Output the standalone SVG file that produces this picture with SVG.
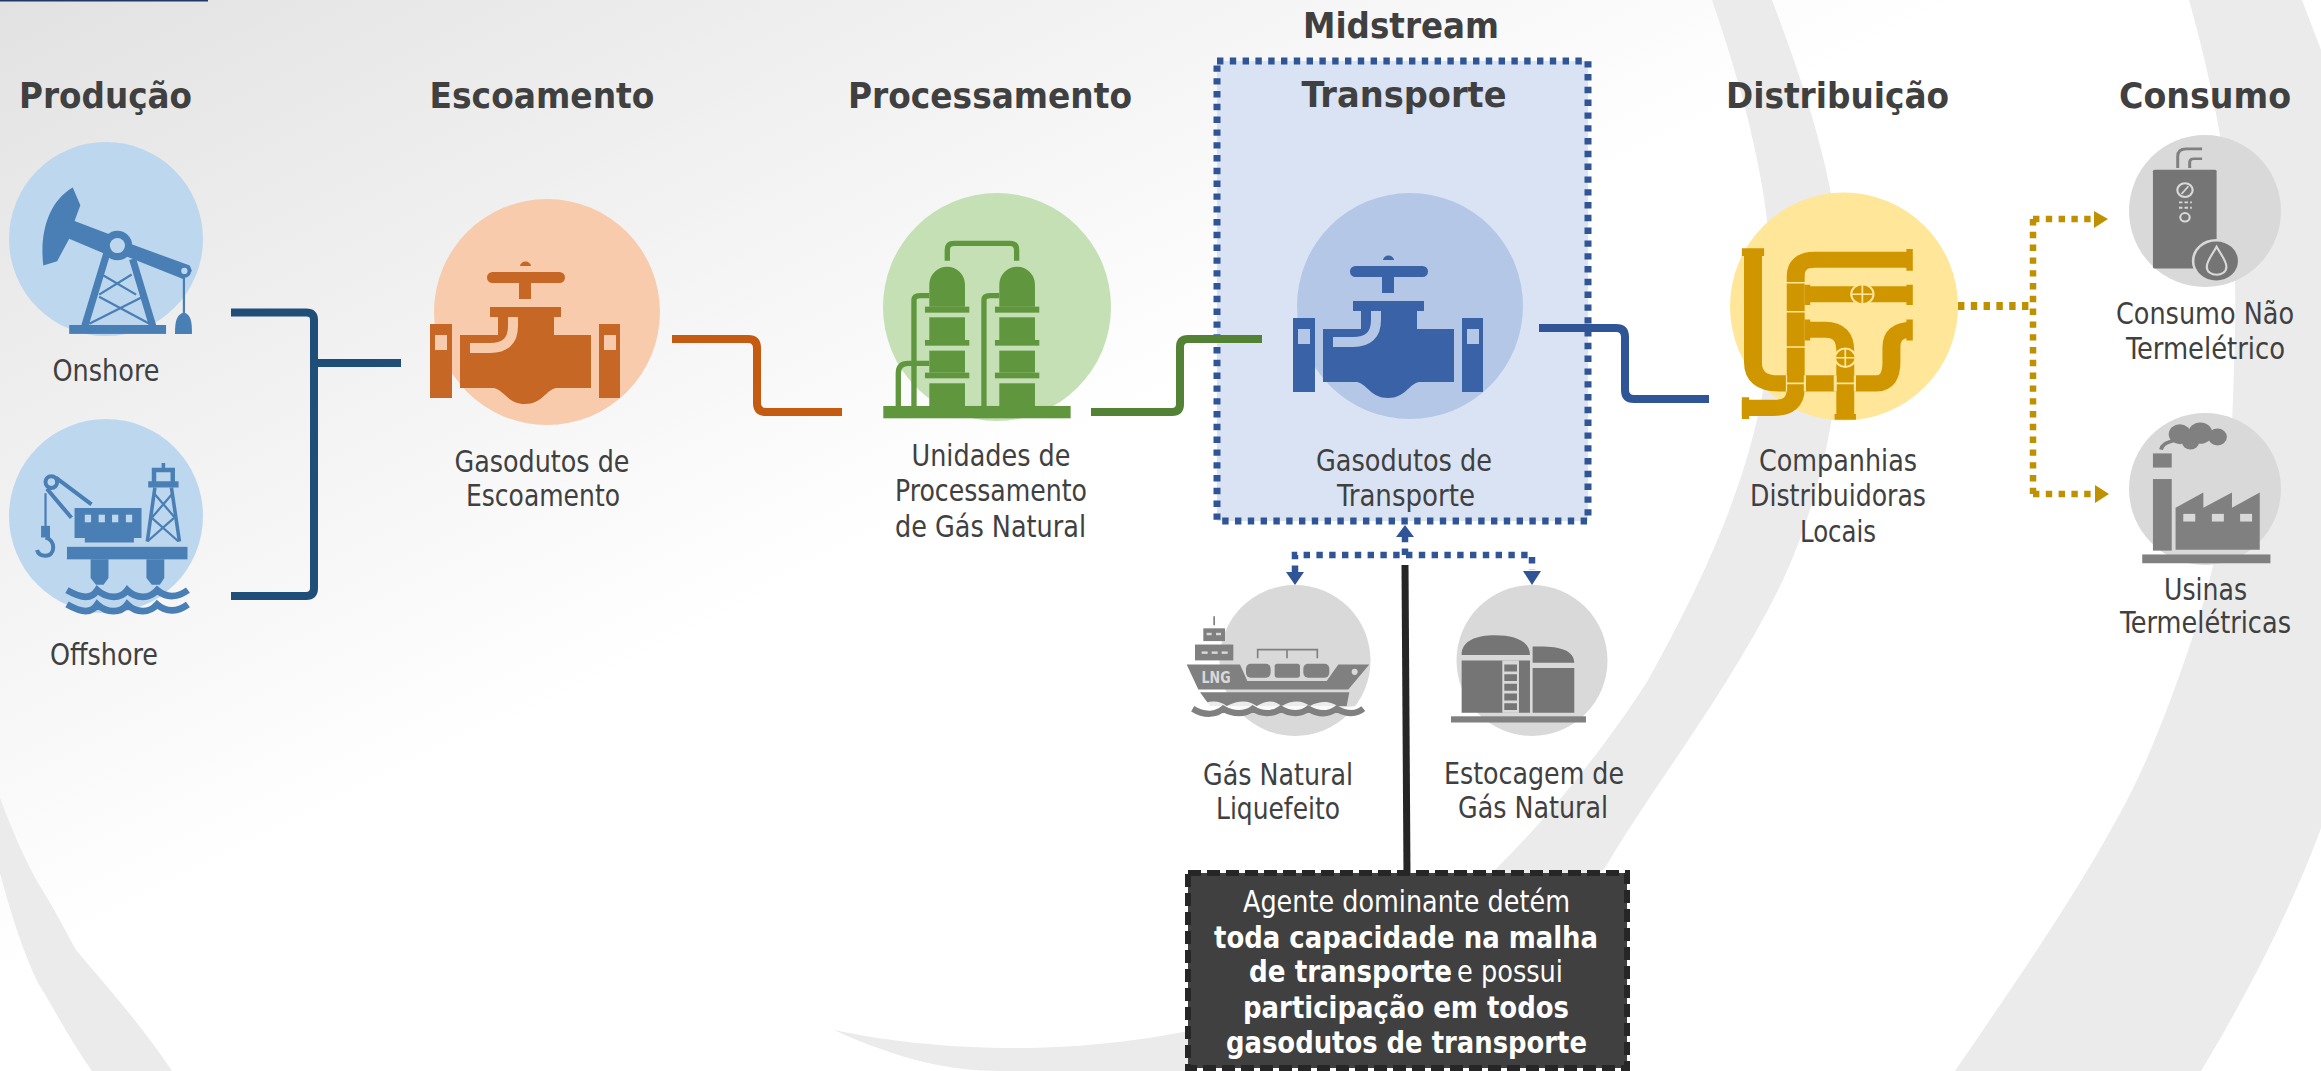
<svg xmlns="http://www.w3.org/2000/svg" width="2321" height="1071" viewBox="0 0 2321 1071">
<style>
text{font-family:"DejaVu Sans Condensed","DejaVu Sans",sans-serif;text-anchor:middle}
.h{font-size:35px;font-weight:700;fill:#404040}
.t{font-size:29.5px;fill:#404040}
.w{font-size:29.5px;fill:#fff}
.wb{font-size:29.5px;font-weight:700;fill:#fff}
.con{fill:none;stroke-linejoin:round}
.dot{fill:none;stroke-width:6.5;stroke-dasharray:6.4 6.4}
.bl{fill:#2f5597}.gd{fill:#bf9000}
.band{fill:#ebebeb}
.g1{fill:#4a7fb5}.g1s{fill:none;stroke:#4a7fb5}
.gr{fill:#5f963e}.grs{fill:none;stroke:#5f963e;stroke-width:16}
.pp{fill:none;stroke:#d09600;stroke-width:42}
.cap{fill:#d09600}
.ln{stroke:#ffe699;stroke-width:4;fill:none}
.st{fill:#757575}.sh{fill:#808080}
.li{fill:#d9d9d9}.lis{fill:none;stroke:#d9d9d9}
.pi{fill:none;stroke:#808080}
</style>
<defs>
<linearGradient id="bg" gradientUnits="userSpaceOnUse" x1="0" y1="0" x2="392" y2="784"><stop offset="0" stop-color="#e2e2e2"/><stop offset="1" stop-color="#fff"/></linearGradient>
<g id="valve">
<path fill="currentColor" d="M460 335H498V317H490V307H561V317H554V335H591V388H556C546 390 542 404 525 404C508 404 504 390 494 388H460Z"/>
<rect x="430" y="324" width="22" height="74" fill="currentColor"/>
<rect x="599" y="324" width="21" height="74" fill="currentColor"/>
<rect x="435" y="335" width="12" height="15" style="fill:var(--h)"/>
<rect x="604" y="335" width="12" height="15" style="fill:var(--h)"/>
<path d="M513 317V326Q513 348 490 348H470" fill="none" stroke-width="10" style="stroke:var(--h)"/>
<rect x="487" y="272" width="78" height="11" rx="5.5" fill="currentColor"/>
<rect x="519" y="283" width="12" height="16" fill="currentColor"/>
<path d="M520 266a5 4 0 0 1 11 0Z" fill="currentColor"/>
</g>
<g id="tower">
<path d="M868 470V404a53.500 54 0 0 1 107 0V470Z"/>
<rect x="855" y="470" width="133" height="18"/><rect x="868" y="502" width="107" height="68"/>
<rect x="855" y="570" width="133" height="17"/><rect x="868" y="602" width="107" height="66"/>
<rect x="855" y="668" width="133" height="17"/><rect x="868" y="700" width="107" height="70"/>
</g>
</defs>
<g id="background">
<rect width="2321" height="1071" fill="url(#bg)"/>
<path class="band" d="M1712 0C1760 140 1785 260 1765 380C1750 470 1715 560 1647 682C1590 770 1500 880 1400 950C1300 1015 1150 1050 1002 1048C940 1047 880 1040 834 1030C900 1060 950 1071 1000 1071H1186L1200 1062C1350 1030 1510 960 1605 868C1650 790 1730 690 1783 580C1820 500 1842 400 1842 300C1842 200 1810 100 1772 0Z"/>
<path class="band" d="M2189 0C2220 110 2238 220 2235 328C2234 370 2233 410 2231 443C2225 510 2215 570 2196 627C2175 690 2150 760 2118 817C2070 905 2010 990 1955 1071H2201C2250 990 2295 900 2321 828V50L2302 0Z"/>
<path class="band" d="M0 798C12 830 25 860 38 883C52 905 65 930 76 950C110 990 145 1030 172 1071H92C70 1040 55 1010 38 983C22 950 10 910 0 873Z"/>
<rect width="208" height="1.500" fill="#1f3864"/>
</g>
<g id="midstream-box">
<rect x="1217" y="61" width="371" height="460" fill="#dae3f3" stroke="#2f5597" stroke-width="7" stroke-dasharray="6.400 6.400"/>
<text class="h" x="1401" y="38" textLength="196" lengthAdjust="spacingAndGlyphs">Midstream</text>
<text class="h" x="1404" y="107" textLength="205" lengthAdjust="spacingAndGlyphs">Transporte</text>
</g>
<g id="connectors">
<path class="con" stroke="#1f4e79" stroke-width="8" d="M231 312.500H306Q314 312.500 314 320V588Q314 596 306 596H231M314 363H401"/>
<path class="con" stroke="#c55a11" stroke-width="8" d="M672 339H748Q757 339 757 348V403Q757 412 766 412H842"/>
<path class="con" stroke="#548235" stroke-width="8" d="M1091 412H1172Q1180 412 1180 404V347Q1180 339 1188 339H1262"/>
<path class="con" stroke="#2f5597" stroke-width="8" d="M1539 328H1616Q1625 328 1625 337V390Q1625 399 1634 399H1709"/>
<path class="con" stroke="#262626" stroke-width="7" d="M1405 565L1407 875"/>
<path class="dot" stroke="#2f5597" d="M1295 572V555H1532V570M1405 555V537"/>
<path class="bl" d="M1286 572H1304L1295 585ZM1523 571H1541L1532 585ZM1396 537H1414L1405 525Z"/>
<path class="dot" stroke="#bf9000" style="stroke-width:8" d="M1958 306H2033"/>
<path class="dot" stroke="#bf9000" d="M2033 219V494M2033 219H2094M2033 494H2095"/>
<path class="gd" d="M2094 211L2108 219L2094 228ZM2095 485L2109 494L2095 503Z"/>
</g>
<g id="onshore">
<circle cx="106" cy="239" r="97" fill="#bdd7ee"/>
<g transform="scale(.4464)">
<path class="g1" d="M163 420L180 460L167 495L245 525A32 32 0 0 1 295 547L425 595L430 607L410 625L285 575L250 575L155 535L128 585L97 595C88 520 110 450 163 420Z"/>
<circle cx="263" cy="550" r="33" class="g1"/><circle cx="263" cy="550" r="17" fill="#bdd7ee"/>
<circle cx="413" cy="607" r="15" class="g1"/><circle cx="413" cy="607" r="7" fill="#bdd7ee"/>
<path class="g1s" stroke-width="5" d="M412 620V702"/>
<path class="g1" d="M412 700C395 705 392 720 392 748H430C430 720 428 705 412 700Z"/>
<rect x="155" y="728" width="217" height="20" class="g1"/>
<path class="g1s" stroke-width="16" d="M240 565L190 730M297 580L342 730"/>
<path class="g1s" stroke-width="5" d="M228 615L305 660M295 615L222 660M222 665L335 725M320 665L200 725"/>
</g>
<text class="t" x="106" y="381" textLength="107" lengthAdjust="spacingAndGlyphs">Onshore</text>
</g>
<g id="offshore">
<circle cx="106" cy="516" r="97" fill="#bdd7ee"/>
<g transform="scale(.4464)">
<circle cx="115" cy="1080" r="13" fill="none" stroke="#4a7fb5" stroke-width="9"/>
<path class="g1s" stroke-width="9" d="M125 1070L205 1130M105 1095L160 1160"/>
<path class="g1s" stroke-width="5" d="M102 1105V1180"/>
<rect x="92" y="1178" width="20" height="26" class="g1"/>
<path class="g1s" stroke-width="9" d="M102 1204C125 1210 125 1245 102 1245C92 1245 85 1240 83 1232"/>
<path class="g1" d="M167 1138H317V1205H300V1215H190V1205H167Z"/>
<g fill="#bdd7ee"><rect x="190" y="1153" width="14" height="17"/><rect x="221" y="1153" width="14" height="17"/><rect x="251" y="1153" width="14" height="17"/><rect x="282" y="1153" width="14" height="17"/></g>
<path class="g1" d="M362 1037H370V1048H392V1078H400V1092H332V1078H340V1048H362ZM350 1058V1078H382V1058Z" fill-rule="evenodd"/>
<path class="g1s" stroke-width="8" d="M347 1092L330 1213M384 1092L402 1213"/>
<path class="g1s" stroke-width="5" d="M345 1105L392 1160M387 1105L340 1160M340 1160L400 1213M390 1160L330 1213"/>
<rect x="150" y="1225" width="270" height="28" class="g1"/>
<path class="g1" d="M203 1253H243V1295L232 1310H215L203 1295ZM328 1253H368V1295L358 1310H340L328 1295Z"/>
<path class="g1s" stroke-width="15" d="M150 1322C185 1342 205 1342 218 1322C240 1342 270 1342 285 1322C305 1342 335 1342 352 1322C375 1342 400 1337 421 1322M150 1354C185 1374 205 1374 218 1354C240 1374 270 1374 285 1354C305 1374 335 1374 352 1354C375 1374 400 1369 421 1354"/>
</g>
<text class="t" x="104" y="665" textLength="108" lengthAdjust="spacingAndGlyphs">Offshore</text>
</g>
<text class="h" x="105.500" y="108" textLength="173" lengthAdjust="spacingAndGlyphs">Produção</text>
<g id="escoamento">
<text class="h" x="542" y="108" textLength="225" lengthAdjust="spacingAndGlyphs">Escoamento</text>
<circle cx="547" cy="312" r="113" fill="#f8cbad"/>
<use href="#valve" style="color:#c66726;--h:#f8cbad"/>
<text class="t" x="542" y="472" textLength="175" lengthAdjust="spacingAndGlyphs">Gasodutos de</text>
<text class="t" x="543" y="506" textLength="154" lengthAdjust="spacingAndGlyphs">Escoamento</text>
</g>
<g id="processamento">
<text class="h" x="990" y="108" textLength="284" lengthAdjust="spacingAndGlyphs">Processamento</text>
<circle cx="997" cy="307" r="114" fill="#c5e0b4"/>
<g transform="translate(640 150) scale(.3333)">
<rect x="730" y="768" width="562" height="37" class="gr"/>
<use href="#tower" class="gr"/><use href="#tower" x="210" class="gr"/>
<path class="grs" d="M922 332V300Q922 280 942 280H1110Q1130 280 1130 300V332M822 768V450Q822 437 840 437H868M1032 768V450Q1032 437 1050 437H1078M775 768V670Q775 640 805 640H868"/>
</g>
<text class="t" x="991" y="466" textLength="159" lengthAdjust="spacingAndGlyphs">Unidades de</text>
<text class="t" x="991" y="501" textLength="192" lengthAdjust="spacingAndGlyphs">Processamento</text>
<text class="t" x="990.500" y="537" textLength="191" lengthAdjust="spacingAndGlyphs">de Gás Natural</text>
</g>
<g id="transporte">
<circle cx="1410" cy="306" r="113" fill="#b4c7e7"/>
<use href="#valve" x="863" y="-6" style="color:#3a62a7;--h:#b4c7e7"/>
<text class="t" x="1404" y="471" textLength="176" lengthAdjust="spacingAndGlyphs">Gasodutos de</text>
<text class="t" x="1406" y="506" textLength="138" lengthAdjust="spacingAndGlyphs">Transporte</text>
</g>
<g id="distribuicao">
<text class="h" x="1837.500" y="108" textLength="223" lengthAdjust="spacingAndGlyphs">Distribuição</text>
<circle cx="1844" cy="306.500" r="114" fill="#ffe699"/>
<g transform="translate(1650 60) scale(.4273 .3827)">
<path class="pp" d="M241 495V790Q241 845 300 845H530Q565 845 565 790V750Q565 705 612 705"/>
<path class="pp" d="M215 909H290Q341 909 341 860V565Q341 522 385 522H612"/>
<path class="pp" d="M365 612H612M365 705H410Q457 705 457 760V935"/>
<path class="cap" d="M215 492H267V512H215ZM600 494H615V551H600ZM600 587H615V640H600ZM600 678H615V733H600ZM215 881H232V938H215ZM432 925H482V940H432ZM362 587H375V640H362ZM362 678H375V733H362Z"/>
<path class="ln" d="M314 582H368M314 658H368M314 750H368M320 845H365M432 845H480"/>
<path fill="#ffe699" d="M318 824h3v42h-3zM360 824h5v42h-5zM430 824h7v42h-7zM477 824h5v42h-5z"/>
<circle cx="497" cy="612" r="26" fill="#d09600" stroke="#ffe699" stroke-width="5"/><path class="ln" d="M473 612H521M497 588V636"/>
<circle cx="457" cy="778" r="24" fill="#d09600" stroke="#ffe699" stroke-width="5"/><path class="ln" d="M435 778H479M457 756V800"/>
</g>
<text class="t" x="1838" y="471" textLength="158" lengthAdjust="spacingAndGlyphs">Companhias</text>
<text class="t" x="1838" y="506" textLength="176" lengthAdjust="spacingAndGlyphs">Distribuidoras</text>
<text class="t" x="1838" y="542" textLength="76" lengthAdjust="spacingAndGlyphs">Locais</text>
</g>
<g id="consumo-nao-termeletrico">
<text class="h" x="2205" y="108" textLength="172" lengthAdjust="spacingAndGlyphs">Consumo</text>
<circle cx="2205" cy="211" r="76" fill="#d9d9d9"/>
<g transform="translate(1650 60) scale(.4273 .3827)">
<rect x="1177" y="287" width="149" height="258" rx="4" class="st"/>
<path class="pi" stroke-width="7" d="M1235 282V252Q1235 232 1255 232H1292M1263 282V268Q1263 258 1273 258H1292"/>
<circle cx="1252" cy="340" r="18" class="lis" stroke-width="5"/><path class="lis" stroke-width="4" d="M1244 350L1260 330"/>
<path class="lis" stroke-width="5" stroke-dasharray="8 5" d="M1238 372H1268M1238 386H1268"/>
<circle cx="1252" cy="411" r="11" class="lis" stroke-width="5"/>
<circle cx="1325" cy="525" r="54" class="st" stroke="#d9d9d9" stroke-width="6"/>
<path class="lis" stroke-width="5" d="M1326 488C1315 510 1303 525 1303 540C1303 568 1349 568 1349 540C1349 525 1337 510 1326 488Z"/>
</g>
<text class="t" x="2205" y="324" textLength="178" lengthAdjust="spacingAndGlyphs">Consumo Não</text>
<text class="t" x="2205.500" y="359" textLength="159" lengthAdjust="spacingAndGlyphs">Termelétrico</text>
</g>
<g id="usinas-termeletricas">
<circle cx="2205" cy="489" r="76" fill="#d9d9d9"/>
<g transform="translate(1650 60) scale(.4273 .3827)">
<g class="sh">
<rect x="1177" y="1095" width="44" height="187"/><rect x="1177" y="1028" width="44" height="37"/>
<path d="M1230 1280V1170L1295 1130V1170L1362 1130V1170L1427 1130V1280Z"/>
<rect x="1152" y="1292" width="300" height="23"/>
<circle cx="1240" cy="978" r="26"/><circle cx="1288" cy="975" r="28"/><circle cx="1328" cy="985" r="22"/><circle cx="1265" cy="998" r="20"/>
</g>
<path class="pi" stroke-width="9" d="M1196 1018C1200 995 1225 1000 1240 985"/>
<g class="li"><rect x="1248" y="1186" width="28" height="20"/><rect x="1315" y="1186" width="28" height="20"/><rect x="1381" y="1186" width="28" height="20"/></g>
</g>
<text class="t" x="2205.500" y="600" textLength="83" lengthAdjust="spacingAndGlyphs">Usinas</text>
<text class="t" x="2205.500" y="633" textLength="171" lengthAdjust="spacingAndGlyphs">Termelétricas</text>
</g>
<g id="gnl">
<circle cx="1295" cy="660.500" r="75.500" fill="#d9d9d9"/>
<g transform="translate(1160 530) scale(.3333 .345)">
<g class="sh">
<path d="M80 390H240L262 438H500L535 390H628L565 462H115Z"/>
<path d="M120 470H568L560 510H150Z"/>
<rect x="105" y="332" width="115" height="46"/><rect x="130" y="285" width="65" height="37"/><rect x="160" y="250" width="5" height="26"/>
<rect x="258" y="388" width="74" height="40" rx="14"/><rect x="344" y="388" width="76" height="40" rx="8"/><rect x="430" y="388" width="78" height="40" rx="14"/>
</g>
<g class="li"><rect x="140" y="298" width="15" height="7"/><rect x="168" y="298" width="15" height="7"/><rect x="125" y="352" width="18" height="7"/><rect x="155" y="352" width="18" height="7"/><rect x="185" y="352" width="18" height="7"/><circle cx="584" cy="411" r="9"/></g>
<path class="pi" stroke-width="5" d="M293 372V347H472V372M381 347V372"/>
<path fill="#fff" d="M110 512C150 490 180 495 200 510C240 490 270 495 290 510C325 490 345 495 365 510C400 490 430 495 450 510C490 490 520 500 540 515C570 512 590 510 612 506V524H95Z" opacity=".85"/>
<path class="pi" stroke-width="18" d="M98 518C135 540 170 535 190 518C220 535 255 535 278 518C305 535 340 535 362 518C390 535 425 535 445 518C475 535 505 535 530 518C560 535 590 535 610 518"/>
</g>
<text x="1216" y="683" font-size="15" font-weight="700" fill="#d9d9d9" textLength="29" lengthAdjust="spacingAndGlyphs">LNG</text>
<text class="t" x="1278" y="785" textLength="150" lengthAdjust="spacingAndGlyphs">Gás Natural</text>
<text class="t" x="1278" y="819" textLength="124" lengthAdjust="spacingAndGlyphs">Liquefeito</text>
</g>
<g id="estocagem">
<circle cx="1532" cy="660.500" r="75.500" fill="#d9d9d9"/>
<g transform="translate(1160 530) scale(.3333 .345)">
<rect x="873" y="540" width="405" height="18" class="sh"/>
<path class="st" d="M905 378H1110V530H905ZM1118 400H1243V530H1118Z"/>
<path class="st" d="M905 362C905 320 950 305 1005 305C1070 305 1110 325 1110 362ZM1118 385V338C1190 335 1243 345 1243 385Z"/>
<rect x="1027" y="378" width="50" height="152" class="li"/>
<path class="st" d="M1033 390H1071V410H1033ZM1033 418H1071V438H1033ZM1033 446H1071V466H1033ZM1033 474H1071V494H1033ZM1033 502H1071V522H1033Z"/>
</g>
<text class="t" x="1534" y="784" textLength="180" lengthAdjust="spacingAndGlyphs">Estocagem de</text>
<text class="t" x="1533" y="818" textLength="150" lengthAdjust="spacingAndGlyphs">Gás Natural</text>
</g>
<g id="agente-dominante">
<rect x="1188" y="873" width="439" height="195" fill="#404040" stroke="#262626" stroke-width="6" stroke-dasharray="13 6"/>
<text class="w" x="1406.500" y="912" textLength="327" lengthAdjust="spacingAndGlyphs">Agente dominante detém</text>
<text class="wb" x="1406" y="948" textLength="384" lengthAdjust="spacingAndGlyphs">toda capacidade na malha</text>
<text class="wb" x="1350.500" y="982" textLength="203" lengthAdjust="spacingAndGlyphs">de transporte</text>
<text class="w" x="1510" y="982" textLength="106" lengthAdjust="spacingAndGlyphs">e possui</text>
<text class="wb" x="1406" y="1018" textLength="326" lengthAdjust="spacingAndGlyphs">participação em todos</text>
<text class="wb" x="1406.500" y="1053" textLength="361" lengthAdjust="spacingAndGlyphs">gasodutos de transporte</text>
</g>
</svg>
